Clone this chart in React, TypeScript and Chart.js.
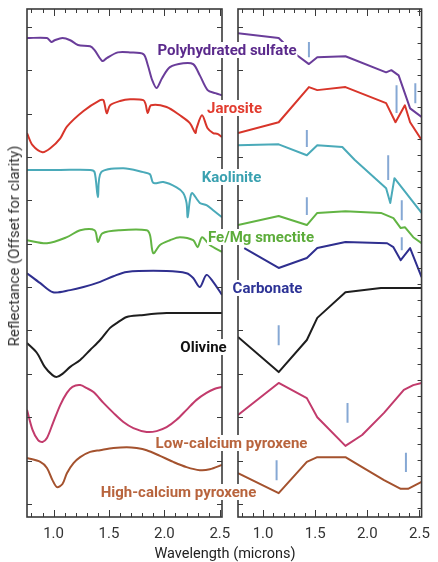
import React, { useEffect, useRef } from 'react';
import { Chart, registerables } from 'chart.js';

Chart.register(...registerables);

// ---------- axes ----------
const X_MIN = 0.76;
const X_MAX = 2.52;
const Y_MIN = -0.3;
const Y_MAX = 11.41;
const X_LABEL_VALUES = [1.0, 1.5, 2.0, 2.5];
const X_TICK_LABELS = ['1.0', '1.5', '2.0', '2.5'];
const X_MINOR_TICKS = [0.8, 0.9, 1.0, 1.1, 1.2, 1.3, 1.4, 1.5, 1.6, 1.7, 1.8, 1.9, 2.0, 2.1, 2.2, 2.3, 2.4, 2.5];
const Y_TICKS = [0, 1, 2, 3, 4, 5, 6, 7, 8, 9, 10, 11];
const RIGHT_EDGE_STEP = 0.37;

// ---------- left panel: laboratory spectra [wavelength µm, offset reflectance] ----------
const LAB_POLYHYDRATED: number[][] = [[0.76,10.74],[0.94,10.74],[0.98,10.65],[1.01,10.69],[1.08,10.74],[1.15,10.69],[1.22,10.58],[1.33,10.55],[1.37,10.46],[1.44,10.21],[1.48,10.28],[1.58,10.41],[1.69,10.41],[1.81,10.37],[1.85,10.12],[1.89,9.77],[1.93,9.59],[1.98,9.82],[2.05,10.07],[2.17,10.16],[2.26,10.14],[2.32,9.88],[2.39,9.54],[2.46,9.47],[2.52,9.42]];
const LAB_JAROSITE: number[][] = [[0.76,8.55],[0.81,8.27],[0.90,8.11],[0.97,8.20],[1.06,8.43],[1.12,8.70],[1.27,9.06],[1.42,9.31],[1.45,9.31],[1.48,9.01],[1.51,9.19],[1.60,9.29],[1.69,9.33],[1.81,9.31],[1.83,9.22],[1.85,9.01],[1.88,9.19],[2.02,9.15],[2.14,8.96],[2.23,8.78],[2.28,8.55],[2.29,8.66],[2.34,8.96],[2.39,8.66],[2.44,8.55],[2.48,8.53],[2.52,8.46]];
const LAB_KAOLINITE: number[][] = [[0.76,7.70],[1.06,7.70],[1.33,7.70],[1.37,7.65],[1.40,7.07],[1.43,7.65],[1.63,7.74],[1.81,7.65],[1.87,7.60],[1.90,7.40],[1.99,7.42],[2.11,7.30],[2.17,7.17],[2.20,6.94],[2.21,6.61],[2.23,7.00],[2.25,7.17],[2.32,6.94],[2.38,6.89],[2.44,6.77],[2.52,6.61]];
const LAB_SMECTITE: number[][] = [[0.76,6.08],[0.94,6.01],[1.12,6.15],[1.24,6.31],[1.37,6.31],[1.40,6.04],[1.44,6.24],[1.60,6.31],[1.84,6.31],[1.87,6.20],[1.90,5.78],[1.96,5.97],[2.05,6.08],[2.14,6.15],[2.26,6.08],[2.30,5.92],[2.34,6.15],[2.41,5.97],[2.52,5.81]];
const LAB_CARBONATE: number[][] = [[0.76,5.32],[0.88,5.09],[0.995,4.88],[1.15,4.93],[1.27,5.00],[1.42,5.12],[1.54,5.25],[1.66,5.35],[2.02,5.37],[2.20,5.32],[2.26,5.21],[2.32,5.00],[2.38,5.28],[2.44,5.12],[2.52,4.82]];
const LAB_OLIVINE: number[][] = [[0.76,3.71],[0.85,3.48],[0.92,3.16],[0.99,2.97],[1.03,2.93],[1.08,3.00],[1.15,3.16],[1.24,3.32],[1.33,3.55],[1.42,3.78],[1.51,4.06],[1.57,4.17],[1.66,4.31],[1.78,4.35],[2.02,4.40],[2.52,4.40]];
const LAB_LCP: number[][] = [[0.76,2.17],[0.81,1.71],[0.86,1.47],[0.90,1.43],[0.94,1.52],[0.995,1.87],[1.06,2.28],[1.12,2.56],[1.17,2.70],[1.24,2.74],[1.30,2.67],[1.36,2.58],[1.45,2.33],[1.54,2.10],[1.63,1.89],[1.72,1.75],[1.84,1.66],[1.93,1.68],[2.02,1.77],[2.11,1.94],[2.20,2.17],[2.29,2.40],[2.38,2.56],[2.45,2.65],[2.52,2.70]];
const LAB_HCP: number[][] = [[0.76,1.06],[0.88,0.97],[0.94,0.83],[0.99,0.55],[1.03,0.39],[1.08,0.46],[1.12,0.71],[1.18,0.94],[1.24,1.08],[1.33,1.20],[1.42,1.24],[1.54,1.29],[1.66,1.31],[1.75,1.29],[1.84,1.24],[1.96,1.11],[2.08,0.97],[2.20,0.85],[2.32,0.78],[2.41,0.80],[2.52,0.90]];

// ---------- right panel: CRISM spectra ----------
const CRISM_POLYHYDRATED: number[][] = [[0.76,10.85],[1.15,10.74],[1.30,10.39],[1.44,10.14],[1.52,10.30],[1.79,10.32],[2.18,9.95],[2.23,10.00],[2.30,9.88],[2.41,9.12],[2.52,8.92]];
const CRISM_JAROSITE: number[][] = [[0.76,8.55],[1.15,8.80],[1.44,9.61],[1.52,9.54],[1.79,9.61],[2.18,9.24],[2.27,8.80],[2.36,9.19],[2.41,8.80],[2.52,8.39]];
const CRISM_KAOLINITE: number[][] = [[0.76,8.27],[1.15,8.29],[1.42,8.04],[1.52,8.27],[1.76,8.23],[1.88,7.93],[2.18,7.28],[2.22,6.94],[2.26,7.51],[2.52,6.71]];
const CRISM_SMECTITE: number[][] = [[0.76,6.43],[1.15,6.64],[1.42,6.43],[1.52,6.71],[1.79,6.75],[2.13,6.71],[2.25,6.59],[2.32,6.36],[2.36,6.38],[2.44,6.15],[2.52,6.01]];
const CRISM_CARBONATE: number[][] = [[0.82,5.90],[1.15,5.44],[1.42,5.67],[1.52,5.90],[1.79,6.04],[2.19,6.01],[2.25,5.92],[2.32,5.62],[2.41,5.90],[2.52,5.23]];
const CRISM_OLIVINE: number[][] = [[0.76,3.85],[1.15,3.04],[1.42,3.78],[1.52,4.29],[1.79,4.88],[2.13,4.98],[2.52,4.98]];
const CRISM_LCP: number[][] = [[0.76,2.05],[1.15,2.79],[1.42,2.44],[1.52,2.00],[1.79,1.34],[1.95,1.59],[2.16,2.10],[2.35,2.63],[2.44,2.74],[2.52,2.79]];
const CRISM_HCP: number[][] = [[0.76,0.71],[1.15,0.25],[1.42,0.97],[1.52,1.08],[1.79,1.08],[1.95,0.85],[2.16,0.55],[2.32,0.35],[2.39,0.35],[2.52,0.51]];

// band markers in the CRISM panel: [wavelength, top, bottom]
const CRISM_MARKERS: number[][] = [[1.44,10.65,10.30],[2.28,9.65,9.01],[2.46,9.70,9.24],[1.42,8.62,8.23],[2.20,8.04,7.47],[1.42,7.07,6.66],[2.33,7.00,6.54],[2.33,6.15,5.85],[1.15,4.12,3.66],[1.81,2.33,1.87],[1.13,1.01,0.55],[2.37,1.18,0.74]];

// ---------- series names / colours ----------
const MINERALS = ['Polyhydrated sulfate', 'Jarosite', 'Kaolinite', 'Fe/Mg smectite', 'Carbonate', 'Olivine', 'Low-calcium pyroxene', 'High-calcium pyroxene'];
const LINE_COLORS = ['#6a3d9a', '#d8352a', '#4aaab9', '#62b443', '#2f2f8f', '#1e1e1e', '#c23b6c', '#a4522e'];
const LABEL_COLORS = ['#5b2a8c', '#e23c2f', '#3aa1b0', '#5cac3a', '#2d3396', '#111111', '#b8643d', '#b8643d'];
const LAB_SERIES = [LAB_POLYHYDRATED, LAB_JAROSITE, LAB_KAOLINITE, LAB_SMECTITE, LAB_CARBONATE, LAB_OLIVINE, LAB_LCP, LAB_HCP];
const CRISM_SERIES = [CRISM_POLYHYDRATED, CRISM_JAROSITE, CRISM_KAOLINITE, CRISM_SMECTITE, CRISM_CARBONATE, CRISM_OLIVINE, CRISM_LCP, CRISM_HCP];
const MARKER_COLOR = '#86a8d4';

const LABEL_POS = [
  [227, 50], [234.5, 108], [231.5, 177], [261, 237], [267.5, 288], [203.5, 347], [231.5, 443], [178.5, 492],
];

const FONT = 'Roboto, "Liberation Sans", Arial, sans-serif';

const framePlugin = {
  id: 'frame',
  afterDraw(chart: any, _args: any, opts: any) {
    const { ctx, chartArea } = chart;
    const { left, right, top, bottom } = chartArea;
    const x = chart.scales.x;
    const y = chart.scales.y;
    ctx.save();
    ctx.strokeStyle = '#3a3a3a';
    ctx.lineWidth = 1;
    ctx.beginPath();
    X_MINOR_TICKS.forEach((v) => {
      const px = Math.round(x.getPixelForValue(v)) + 0.5;
      const major = X_LABEL_VALUES.some((m) => Math.abs(m - v) < 1e-6);
      const len = major ? 7 : 4;
      ctx.moveTo(px, bottom);
      ctx.lineTo(px, bottom - len);
      ctx.moveTo(px, top);
      ctx.lineTo(px, top + len);
    });
    Y_TICKS.forEach((v) => {
      const py = Math.round(y.getPixelForValue(v)) + 0.5;
      ctx.moveTo(left, py);
      ctx.lineTo(left + 5, py);
      if (!opts.denseRight) {
        ctx.moveTo(right, py);
        ctx.lineTo(right - 5, py);
      }
    });
    if (opts.denseRight) {
      for (let v = Y_MIN + 0.2; v < Y_MAX; v += RIGHT_EDGE_STEP) {
        const py = Math.round(y.getPixelForValue(v)) + 0.5;
        ctx.moveTo(right, py);
        ctx.lineTo(right - 4, py);
      }
    }
    ctx.stroke();
    ctx.lineWidth = 1.6;
    ctx.strokeRect(left, top, right - left, bottom - top);
    ctx.restore();
  },
};

type PanelProps = {
  left: number;
  width: number;
  padL: number;
  padR: number;
  series: number[][][];
  markers?: number[][];
  smooth: boolean;
  denseRight: boolean;
};

function Panel({ left, width, padL, padR, series, markers, smooth, denseRight }: PanelProps) {
  const ref = useRef<HTMLCanvasElement>(null);
  useEffect(() => {
    if (!ref.current) return;
    const datasets: any[] = series.map((pts, i) => ({
      label: MINERALS[i],
      data: pts.map(([x, y]) => ({ x, y })),
      borderColor: LINE_COLORS[i],
      borderWidth: 2,
      pointRadius: 0,
      fill: false,
      tension: smooth ? 0.3 : 0,
      borderJoinStyle: 'round',
    }));
    if (markers) {
      datasets.push({
        label: 'band centers',
        data: markers.flatMap(([x, a, b]) => [{ x, y: a }, { x, y: b }, { x, y: null }]),
        borderColor: MARKER_COLOR,
        borderWidth: 2,
        pointRadius: 0,
        spanGaps: false,
        tension: 0,
      });
    }
    const chart = new Chart(ref.current, {
      type: 'line',
      data: { datasets },
      options: {
        animation: false,
        responsive: false,
        events: [],
        layout: { padding: { left: padL, right: padR, top: 9, bottom: 0 } },
        plugins: {
          legend: { display: false },
          tooltip: { enabled: false },
          frame: { denseRight },
        } as any,
        scales: {
          x: {
            type: 'linear',
            min: X_MIN,
            max: X_MAX,
            afterBuildTicks: (s: any) => {
              s.ticks = X_MINOR_TICKS.map((v) => ({ value: v }));
            },
            afterFit: (s: any) => {
              s.height = 45;
            },
            grid: { display: false, drawTicks: false },
            border: { display: false },
            ticks: {
              autoSkip: false,
              maxRotation: 0,
              minRotation: 0,
              padding: 8,
              color: '#333',
              font: { family: FONT, size: 15 },
              callback: (v: any) => {
                const idx = X_LABEL_VALUES.findIndex((m) => Math.abs(m - Number(v)) < 1e-6);
                return idx >= 0 ? X_TICK_LABELS[idx] : '';
              },
            },
          },
          y: { type: 'linear', display: false, min: Y_MIN, max: Y_MAX },
        },
      } as any,
      plugins: [framePlugin],
    });
    return () => chart.destroy();
  }, []);
  return (
    <canvas
      ref={ref}
      width={width}
      height={562}
      style={{ position: 'absolute', left, top: 0, width, height: 562 }}
    />
  );
}

export default function App() {
  return (
    <div
      style={{
        position: 'absolute',
        left: 0,
        top: 0,
        width: 438,
        height: 562,
        background: '#fff',
        overflow: 'hidden',
        fontFamily: FONT,
      }}
    >
      <Panel left={0} width={240} padL={27} padR={18} series={LAB_SERIES} smooth={true} denseRight={false} />
      <Panel left={230} width={208} padL={8} padR={9} series={CRISM_SERIES} markers={CRISM_MARKERS} smooth={false} denseRight={true} />
      {MINERALS.map((name, i) => (
        <div
          key={name}
          style={{
            position: 'absolute',
            left: LABEL_POS[i][0],
            top: LABEL_POS[i][1],
            transform: 'translate(-50%, -50%)',
            whiteSpace: 'nowrap',
            fontWeight: 700,
            fontSize: 15,
            lineHeight: '16px',
            color: LABEL_COLORS[i],
            background: '#fff',
            padding: '0 1px',
          }}
        >
          {name}
        </div>
      ))}
      <div
        style={{
          position: 'absolute',
          left: 14,
          top: 246,
          transform: 'translate(-50%, -50%) rotate(-90deg)',
          whiteSpace: 'nowrap',
          fontSize: 15,
          color: '#333',
        }}
      >
        Reflectance (Offset for clarity)
      </div>
      <div
        style={{
          position: 'absolute',
          left: 225,
          top: 553,
          transform: 'translate(-50%, -50%)',
          whiteSpace: 'nowrap',
          fontSize: 14.5,
          color: '#222',
        }}
      >
        Wavelength (microns)
      </div>
    </div>
  );
}
